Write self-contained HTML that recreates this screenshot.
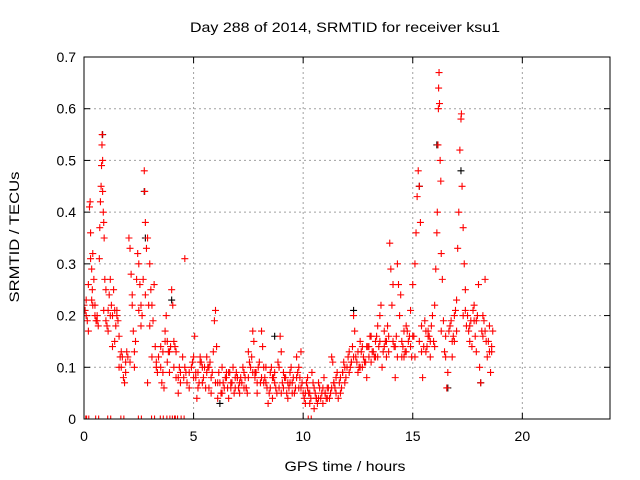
<!DOCTYPE html>
<html><head><meta charset="utf-8"><style>
body{margin:0;background:#fff;}
svg{display:block;font-family:"Liberation Sans",sans-serif;}
</style></head><body>
<svg id="chart" width="640" height="480">
<rect width="640" height="480" fill="#fff"/>
<text x="345" y="32" font-size="14" text-anchor="middle" textLength="310" lengthAdjust="spacingAndGlyphs">Day 288 of 2014, SRMTID for receiver ksu1</text>
<g id="grid"></g>
<g id="ticks"></g>
<clipPath id="clip"><rect x="84" y="57" width="526" height="362"/></clipPath>
<g id="marks" clip-path="url(#clip)"></g>
<rect x="84" y="57" width="526" height="362" fill="none" stroke="#000" stroke-width="1"/>
<text x="345" y="471" font-size="14" text-anchor="middle" textLength="121" lengthAdjust="spacingAndGlyphs">GPS time / hours</text>
<text transform="translate(19,237) rotate(-90)" font-size="14" text-anchor="middle" textLength="131" lengthAdjust="spacingAndGlyphs">SRMTID / TECUs</text>
</svg>
<script>
const xTicks=[0,5,10,15,20];
const yTicks=[0,0.1,0.2,0.3,0.4,0.5,0.6,0.7];
const yTickLabels=["0","0.1","0.2","0.3","0.4","0.5","0.6","0.7"];
const hours=[0,0.05,0.1,0.15,0.2,0.2,0.25,0.28,0.3,0.3,0.35,0.38,0.4,0.45,0.5,0.5,0.55,0.6,0.65,0.7,0.72,0.75,0.78,0.8,0.82,0.83,0.85,0.85,0.88,0.9,0.92,0.95,1.0,1.0,1.05,
1.1,1.15,1.2,1.25,1.3,1.35,1.4,1.45,1.5,1.55,1.6,1.65,1.7,1.75,1.8,1.85,1.9,1.95,2.0,2.05,2.1,2.15,2.2,2.25,2.3,
2.35,2.4,2.45,2.5,2.55,2.6,2.65,2.7,2.75,2.77,2.8,2.85,2.9,2.9,2.95,3.0,3.05,3.1,3.15,3.2,3.25,3.3,3.35,
3.4,3.5,3.55,3.6,3.65,3.7,3.75,3.8,3.85,3.9,3.95,4.0,4.05,4.1,4.15,4.2,4.3,4.35,4.4,4.5,4.55,4.6,4.65,4.7,
4.8,4.9,5.0,5.05,5.1,5.15,5.2,5.3,5.4,5.5,5.6,5.7,5.8,5.9,5.95,6.0,6.05,6.1,6.2,
6.3,6.4,6.5,6.6,6.7,6.8,6.9,7.0,7.1,7.2,7.3,7.4,7.5,7.6,7.7,7.75,7.8,7.9,8.0,8.1,8.15,8.2,
8.3,8.4,8.5,8.6,8.7,8.8,8.9,8.95,9.0,9.1,9.2,9.3,9.4,9.5,9.6,9.7,9.8,9.9,9.95,10.0,
10.1,10.2,10.3,10.4,10.5,10.6,10.7,10.8,10.9,11.0,11.1,11.2,11.3,11.35,11.4,11.5,11.6,11.7,11.8,11.9,12.0,
12.1,12.2,12.3,12.35,12.4,12.5,12.6,12.7,12.8,12.9,13.0,13.1,13.2,13.3,13.4,13.5,13.55,13.6,13.7,13.8,13.9,13.95,14.0,
14.05,14.1,14.15,14.2,14.3,14.35,14.4,14.45,14.5,14.6,14.7,14.8,14.9,15.0,15.05,15.1,15.15,15.2,15.25,15.3,15.35,15.4,15.45,
15.5,15.6,15.7,15.8,15.9,16.0,16.05,16.1,16.12,16.15,16.17,16.18,16.2,16.22,16.25,16.28,16.3,16.35,16.4,16.5,16.55,16.6,
16.7,16.8,16.9,17.0,17.05,17.1,17.15,17.2,17.22,17.25,17.3,17.35,17.4,17.5,17.6,17.7,17.8,17.9,18.0,18.05,18.1,18.2,18.3,18.35,18.4,18.5,18.55,18.6,18.65,
5.0,5.2,5.4,5.6,5.8,6.0,6.3,6.5,6.7,6.9,7.1,7.3,7.5,7.7,7.9,8.1,8.3,8.5,8.7,8.9,9.1,9.3,9.5,9.7,9.9,10.1,10.3,10.5,10.7,10.9,11.1,11.3,11.5,11.7,11.9,12.1,12.3,12.5,12.7,12.9,13.1,13.3,13.5,13.7,13.9,14.1,14.3,14.5,14.7,14.9,15.1,15.3,15.6,15.8,16.0,16.5,16.8,17.0,17.3,17.6,17.9,18.2,18.5,0.4,0.6,1.2,1.4,1.6,2.2,2.5,3.0,3.6,3.8,4.2,4.4,
0.1,0.35,0.9,1.1,1.3,1.5,1.7,1.9,2.1,2.3,2.6,2.8,3.1,3.3,3.5,3.7,3.9,4.1,4.3,4.6,4.8,4.95,5.1,5.25,5.35,5.45,5.55,5.65,5.75,5.85,6.15,6.25,6.35,6.45,6.55,6.65,6.75,6.85,6.95,7.05,7.15,7.25,7.35,7.45,7.55,7.65,7.85,7.95,8.05,8.25,8.35,8.45,8.55,8.65,8.75,8.85,9.05,9.15,9.25,9.35,9.45,9.55,9.65,9.75,9.85,10.05,10.15,10.25,10.35,10.45,10.55,10.65,10.75,10.85,10.95,11.05,11.15,11.25,11.45,11.55,11.65,11.75,11.85,11.95,12.05,12.15,12.25,12.45,12.55,12.65,12.75,12.85,12.95,13.05,13.15,13.25,13.35,13.45,13.65,13.75,13.85,14.25,14.55,14.65,14.75,14.85,14.95,15.55,15.65,15.75,15.85,15.95,16.45,16.65,16.75,16.85,16.95,17.45,17.55,17.65,17.75,17.85,17.95,18.15,18.25,18.45,18.6,
5.3,5.7,6.1,6.6,7.0,7.4,7.8,8.2,8.6,9.0,9.4,9.8,10.2,10.6,11.0,11.4,11.8,12.2,12.6,13.0,13.4,13.8,14.2,14.6,15.0,15.4,15.7,16.3,16.9,17.4,17.8,18.3];
const tecu=[0.22,0.21,0.23,0.19,0.17,0.26,0.41,0.42,0.36,0.31,0.29,0.25,0.32,0.27,0.2,0.22,0.19,0.19,0.18,0.31,0.37,0.42,0.45,0.49,0.53,0.55,0.5,0.44,0.4,0.38,0.35,0.27,0.25,0.19,0.18,
0.21,0.24,0.27,0.22,0.2,0.25,0.15,0.18,0.21,0.19,0.16,0.12,0.1,0.12,0.08,0.07,0.11,0.13,0.12,0.35,0.33,0.28,0.24,0.17,0.1,
0.15,0.27,0.32,0.3,0.26,0.22,0.2,0.27,0.48,0.44,0.38,0.33,0.35,0.07,0.22,0.3,0.25,0.22,0.19,0.26,0.14,0.11,0.09,
0.12,0.1,0.07,0.09,0.06,0.17,0.2,0.15,0.13,0.09,0.14,0.25,0.22,0.15,0.14,0.13,0.05,0.1,0.09,0.12,0.08,0.31,0.09,0.07,
0.06,0.1,0.12,0.16,0.08,0.04,0.09,0.12,0.07,0.1,0.12,0.06,0.08,0.13,0.19,0.21,0.14,0.04,0.07,
0.1,0.06,0.08,0.04,0.07,0.1,0.06,0.08,0.05,0.07,0.09,0.06,0.13,0.1,0.17,0.15,0.08,0.05,0.11,0.17,0.14,0.1,
0.07,0.03,0.09,0.04,0.07,0.05,0.1,0.16,0.13,0.06,0.08,0.04,0.09,0.07,0.05,0.12,0.1,0.13,0.07,0.05,
0.03,0.06,0.05,0.09,0.02,0.04,0.07,0.04,0.03,0.05,0.06,0.04,0.12,0.11,0.07,0.05,0.04,0.08,0.09,0.07,0.1,
0.13,0.11,0.2,0.17,0.12,0.09,0.15,0.14,0.11,0.08,0.12,0.16,0.13,0.15,0.18,0.2,0.22,0.1,0.14,0.12,0.16,0.34,0.29,
0.22,0.26,0.14,0.08,0.3,0.26,0.2,0.24,0.12,0.17,0.13,0.15,0.21,0.26,0.16,0.3,0.36,0.43,0.48,0.45,0.38,0.13,0.08,
0.14,0.17,0.16,0.12,0.2,0.22,0.29,0.36,0.4,0.53,0.6,0.64,0.67,0.61,0.5,0.46,0.32,0.27,0.19,0.12,0.06,0.09,
0.18,0.15,0.2,0.23,0.33,0.4,0.52,0.58,0.59,0.45,0.37,0.3,0.25,0.2,0.18,0.14,0.22,0.19,0.26,0.1,0.07,0.2,0.27,0.15,0.12,0.18,0.09,0.14,0.17,
0.08,0.06,0.1,0.09,0.05,0.07,0.05,0.09,0.06,0.08,0.07,0.06,0.08,0.09,0.07,0.08,0.1,0.06,0.09,0.06,0.09,0.07,0.05,0.08,0.06,0.05,0.03,0.06,0.04,0.06,0.04,0.06,0.08,0.05,0.1,0.09,0.12,0.13,0.1,0.14,0.11,0.12,0.15,0.17,0.13,0.15,0.12,0.15,0.18,0.14,0.12,0.15,0.13,0.15,0.14,0.16,0.12,0.17,0.2,0.15,0.13,0.16,0.13,0.22,0.2,0.2,0.21,0.1,0.22,0.21,0.18,0.13,0.11,0.08,0.07,
0.2,0.23,0.21,0.17,0.14,0.2,0.13,0.09,0.11,0.13,0.18,0.24,0.12,0.1,0.14,0.15,0.13,0.1,0.08,0.1,0.09,0.11,0.09,0.07,0.11,0.08,0.06,0.1,0.11,0.09,0.09,0.05,0.07,0.08,0.06,0.09,0.07,0.05,0.09,0.06,0.08,0.1,0.08,0.05,0.11,0.12,0.09,0.1,0.07,0.08,0.06,0.05,0.1,0.08,0.06,0.11,0.07,0.08,0.05,0.06,0.1,0.08,0.06,0.09,0.08,0.04,0.07,0.05,0.04,0.07,0.05,0.03,0.06,0.05,0.08,0.04,0.06,0.05,0.06,0.09,0.07,0.06,0.11,0.08,0.12,0.1,0.14,0.11,0.1,0.13,0.12,0.11,0.14,0.16,0.13,0.12,0.16,0.14,0.13,0.15,0.18,0.16,0.14,0.13,0.17,0.16,0.12,0.19,0.14,0.16,0.18,0.15,0.13,0.17,0.19,0.16,0.21,0.18,0.17,0.19,0.21,0.16,0.2,0.17,0.19,0.15,0.13,0.11,
0.1,0.07,0.09,0.08,0.06,0.09,0.07,0.08,0.05,0.07,0.06,0.08,0.04,0.05,0.07,0.09,0.11,0.1,0.14,0.12,0.15,0.14,0.12,0.16,0.18,0.17,0.17,0.15,0.21,0.19,0.17,0.15];
const blackHours=[0.85,2.75,2.8,15.3,16.1,17.2,8.7,16.6,18.1,6.2,12.3,4.0];
const blackTecu=[0.55,0.44,0.35,0.45,0.53,0.48,0.16,0.06,0.07,0.03,0.21,0.23];
const zeroHours=[0.05,0.15,0.6,1.15,1.75,2.55,3.15,3.55,3.85,4.1,4.2,4.5,10.3];

const NS='http://www.w3.org/2000/svg';
const X0=84,X1=610,Y0=419,Y1=57;
function sx(v){return X0+(v/24)*(X1-X0);}
function sy(v){return Y0-(v/0.7)*(Y0-Y1);}
const grid=document.getElementById('grid'),ticks=document.getElementById('ticks'),marks=document.getElementById('marks');
function mk(tag,attrs,parent){const e=document.createElementNS(NS,tag);for(const k in attrs)e.setAttribute(k,attrs[k]);parent.appendChild(e);return e;}
xTicks.forEach(v=>{
  const x=sx(v);
  if(v>0){const g=mk('line',{x1:x,x2:x,y1:Y1,y2:Y0,stroke:'#a0a0a0','stroke-dasharray':'2,3'},grid);
  
  }
  mk('line',{x1:x,x2:x,y1:Y0,y2:Y0-6,stroke:'#000'},ticks);
  mk('line',{x1:x,x2:x,y1:Y1,y2:Y1+6,stroke:'#000'},ticks);
  const t=mk('text',{x:x,y:441,'font-size':14,'text-anchor':'middle'},ticks);t.textContent=v;
  
  
});
yTicks.forEach((v,i)=>{
  const y=sy(v);
  if(v>0&&v<0.7){const g=mk('line',{x1:X0,x2:X1,y1:y,y2:y,stroke:'#a0a0a0','stroke-dasharray':'2,3'},grid);
  
  }
  mk('line',{x1:X0,x2:X0+6,y1:y,y2:y,stroke:'#000'},ticks);
  mk('line',{x1:X1,x2:X1-6,y1:y,y2:y,stroke:'#000'},ticks);
  const t=mk('text',{x:76,y:y+5,'font-size':14,'text-anchor':'end'},ticks);t.textContent=yTickLabels[i];
  
  
});
function plus(x,y,col,name){
  const p=mk('path',{d:`M${x-3.5},${y}H${x+3.5}M${x},${y-3.5}V${y+3.5}`,stroke:col,'stroke-width':1.1,fill:'none'},marks);
  
  
}
blackHours.forEach((h,i)=>plus(sx(h),sy(blackTecu[i]),'#000','black-point'));
hours.forEach((h,i)=>plus(sx(h),sy(tecu[i]),'#f00','red-point'));
zeroHours.forEach(h=>{plus(sx(h)-1.5,sy(0),'#f00','zero-point');plus(sx(h)+1.5,sy(0),'#f00','zero-point');});
</script>
</body></html>
